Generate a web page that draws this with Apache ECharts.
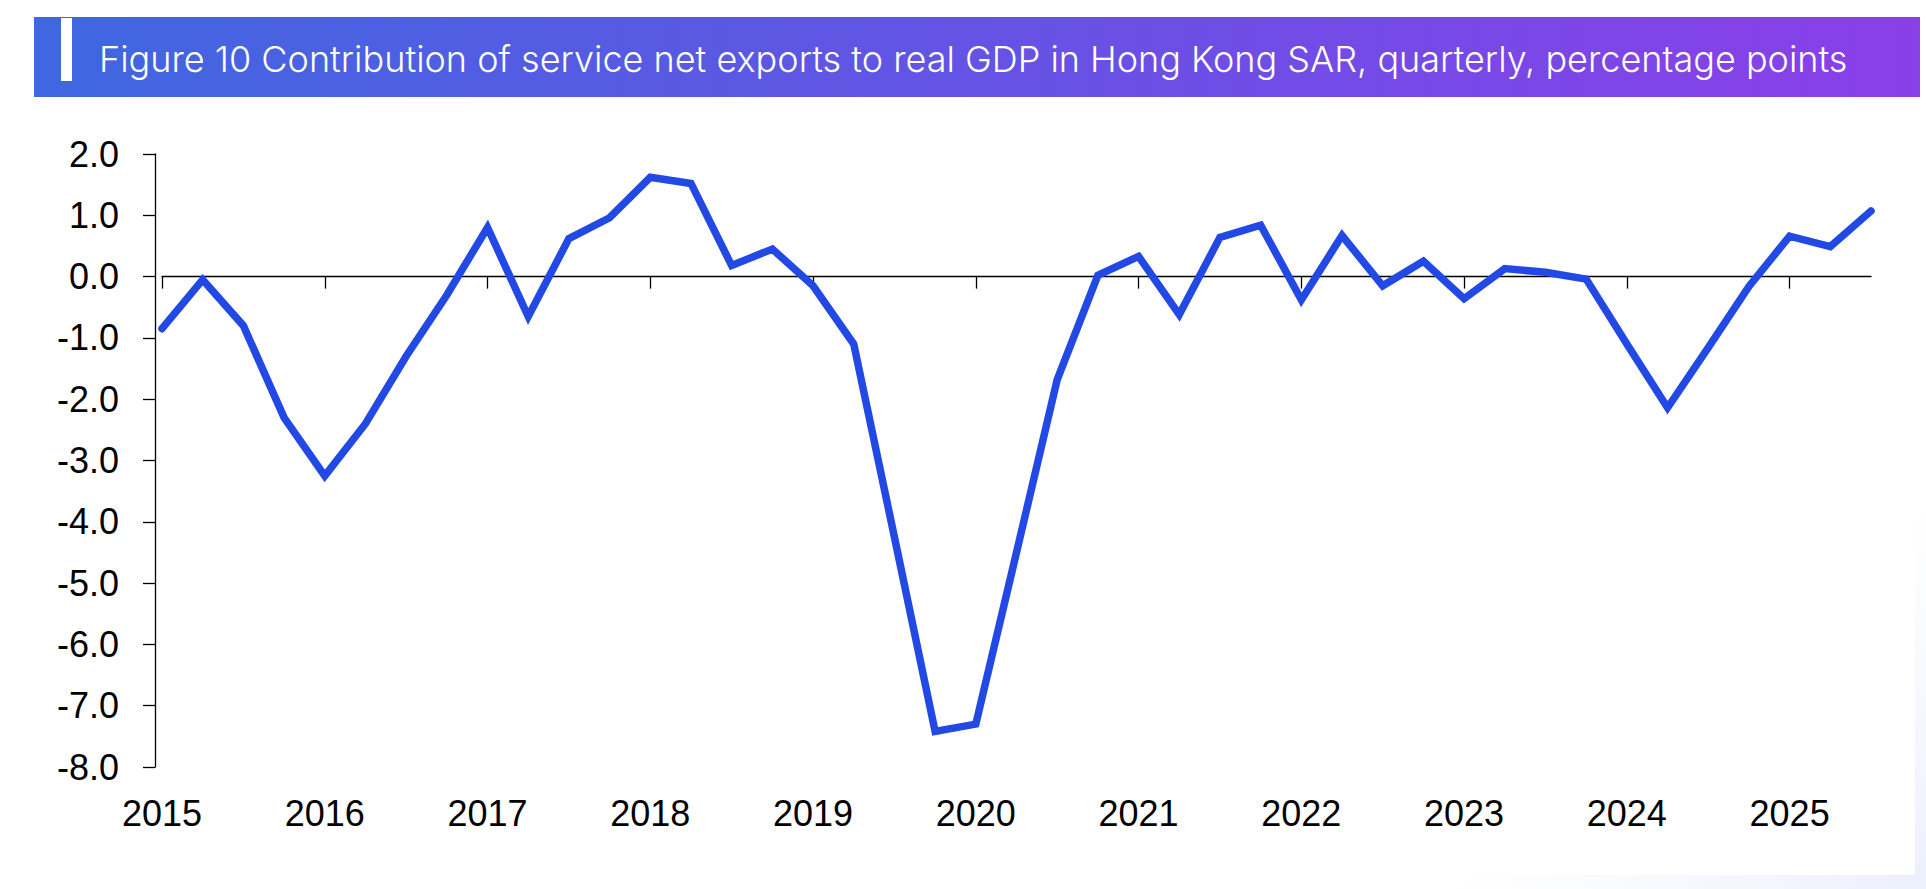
<!DOCTYPE html>
<html>
<head>
<meta charset="utf-8">
<title>Figure 10</title>
<script src="https://cdn.jsdelivr.net/npm/echarts@6/dist/echarts.min.js"></script>
<style>
  html, body { margin: 0; padding: 0; background: #fff; }
  #chart { width: 1926px; height: 889px; }
</style>
</head>
<body>
<div id="chart"></div>
<script>
// quarters, 2015Q1 - 2025Q3
const quarters = [
  "2015Q1", "2015Q2", "2015Q3", "2015Q4",
  "2016Q1", "2016Q2", "2016Q3", "2016Q4",
  "2017Q1", "2017Q2", "2017Q3", "2017Q4",
  "2018Q1", "2018Q2", "2018Q3", "2018Q4",
  "2019Q1", "2019Q2", "2019Q3", "2019Q4",
  "2020Q1", "2020Q2", "2020Q3", "2020Q4",
  "2021Q1", "2021Q2", "2021Q3", "2021Q4",
  "2022Q1", "2022Q2", "2022Q3", "2022Q4",
  "2023Q1", "2023Q2", "2023Q3", "2023Q4",
  "2024Q1", "2024Q2", "2024Q3", "2024Q4",
  "2025Q1", "2025Q2", "2025Q3",
];

// contribution of service net exports to real GDP, ppt
const contribution = [
  -0.85, -0.05, -0.8, -2.3,
  -3.25, -2.4, -1.3, -0.3,
  0.8, -0.65, 0.62, 0.96,
  1.62, 1.52, 0.18, 0.45,
  -0.15, -1.1, -4.25, -7.42,
  -7.3, -4.5, -1.68, 0.02,
  0.33, -0.62, 0.64, 0.84,
  -0.38, 0.67, -0.15, 0.25,
  -0.36, 0.13, 0.07, -0.04,
  -1.1, -2.14, -1.16, -0.16,
  0.66, 0.49, 1.07,
];

// y axis range
const yMin = -8;
const yMax = 2;
const yStep = 1;

const titleText =
  "Figure 10 Contribution of service net exports to real GDP in Hong Kong SAR, quarterly, percentage points";

const labelFont = "'Liberation Sans', Arial, sans-serif";
const isYearStart = (i) => i % 4 === 0;

const chart = echarts.init(document.getElementById("chart"), null, { renderer: "svg" });

const option = {
  animation: false,
  backgroundColor: "#fff",
  textStyle: { fontFamily: labelFont },
  graphic: [
    // faint tint along the bottom / right edge
    {
      type: "rect",
      shape: { x: 1450, y: 875, width: 476, height: 14 },
      style: {
        fill: new echarts.graphic.LinearGradient(0, 0, 1, 0, [
          { offset: 0, color: "rgba(240,243,253,0)" },
          { offset: 1, color: "rgba(236,240,252,1)" },
        ]),
      },
      silent: true,
    },
    {
      type: "rect",
      shape: { x: 1915, y: 500, width: 11, height: 389 },
      style: {
        fill: new echarts.graphic.LinearGradient(0, 0, 0, 1, [
          { offset: 0, color: "rgba(240,243,253,0)" },
          { offset: 1, color: "rgba(236,240,252,1)" },
        ]),
      },
      silent: true,
    },
    // title bar
    {
      type: "rect",
      shape: { x: 34, y: 17, width: 1886, height: 80 },
      style: {
        fill: new echarts.graphic.LinearGradient(0, 0, 1, 0, [
          { offset: 0, color: "#3F67E1" },
          { offset: 1, color: "#8A3FE8" },
        ]),
      },
      silent: true,
    },
    {
      type: "rect",
      shape: { x: 61, y: 18, width: 11, height: 63 },
      style: { fill: "#fff" },
      silent: true,
    },
    {
      type: "text",
      x: 99,
      y: 59,
      style: {
        text: titleText,
        fill: "#fff",
        fontSize: 36,
        fontWeight: 300,
        fontFamily: "Inter, 'Liberation Sans', sans-serif",
        verticalAlign: "middle",
      },
      silent: true,
    },
  ],
  grid: {
    left: 162,
    right: 55,
    top: 154,
    bottom: 122,
    containLabel: false,
  },
  xAxis: [
    {
      // zero line with year ticks
      type: "category",
      data: quarters,
      boundaryGap: false,
      axisLine: { onZero: true, lineStyle: { color: "#000", width: 1.3 } },
      axisTick: {
        interval: (i) => isYearStart(i),
        length: 12,
        lineStyle: { color: "#000", width: 1.3 },
      },
      axisLabel: { show: false },
      splitLine: { show: false },
    },
    {
      // year labels along the bottom
      type: "category",
      data: quarters,
      position: "bottom",
      boundaryGap: false,
      axisLine: { show: false, onZero: false },
      axisTick: { show: false },
      axisLabel: {
        interval: (i) => isYearStart(i),
        formatter: (v) => v.slice(0, 4),
        fontSize: 36,
        color: "#000",
        margin: 28,
        fontFamily: labelFont,
      },
      splitLine: { show: false },
    },
  ],
  yAxis: {
    type: "value",
    min: yMin,
    max: yMax,
    interval: yStep,
    offset: 7,
    axisLine: { show: true, lineStyle: { color: "#000", width: 1.3 } },
    axisTick: { show: true, length: 12, lineStyle: { color: "#000", width: 1.3 } },
    axisLabel: {
      formatter: (v) => v.toFixed(1),
      fontSize: 36,
      color: "#000",
      margin: 36,
      fontFamily: labelFont,
    },
    splitLine: { show: false },
  },
  series: [
    {
      name: "Service net exports",
      type: "line",
      xAxisIndex: 0,
      data: contribution,
      symbol: "none",
      lineStyle: { color: "#2249E3", width: 7.5, cap: "round", join: "miter" },
      z: 3,
    },
  ],
};

chart.setOption(option);
</script>
</body>
</html>
